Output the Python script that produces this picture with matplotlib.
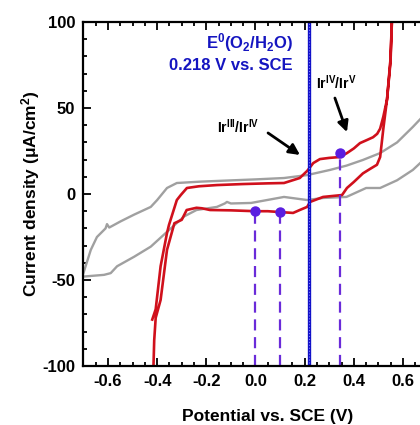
import numpy as np
from matplotlib import pyplot as plt
from matplotlib.ticker import MultipleLocator

plt.rcParams['font.family'] = ['Liberation Sans', 'DejaVu Sans']
plt.rcParams['mathtext.default'] = 'regular'
plt.rcParams['axes.unicode_minus'] = False

# red CV (Ir catalyst), anodic branch then cathodic return
red_x = [-0.42, -0.406, -0.386, -0.36, -0.352, -0.32, -0.304, -0.279, -0.23, -0.157, -0.05,
         0.05, 0.116, 0.18, 0.21, 0.235, 0.262, 0.30, 0.344, 0.372, 0.40, 0.425, 0.455,
         0.478, 0.495, 0.507, 0.52, 0.535, 0.548, 0.556,
         0.55, 0.535, 0.52, 0.507, 0.494, 0.465, 0.437, 0.40, 0.372, 0.352, 0.31, 0.275,
         0.222, 0.21, 0.18, 0.153, 0.1, 0.05, 0.0, -0.1, -0.185, -0.218, -0.24, -0.28,
         -0.30, -0.33, -0.36, -0.386, -0.406, -0.412, -0.415, -0.417]
red_y = [-73, -67, -42, -22.7, -18, -3.5, -0.6, 3.5, 4.5, 5.2, 5.8,
         6.2, 6.4, 9.3, 13.4, 18, 20.3, 21, 21.5, 23.8, 26.5, 29.6, 31.5,
         33, 35, 38, 45, 55, 75, 105,
         80, 55, 38, 21.5, 17, 14.5, 12, 7, 3.5, -0.6, -1.2, -1.7,
         -4.6, -7.5, -9.3, -11, -10.5, -10, -10, -9.5, -9.3, -8.3, -8, -9.3,
         -15, -17, -32.5, -61.6, -72, -85, -100, -110]

# grey CV (reference electrode), upper and lower branches
grey_up_x = [-0.70, -0.67, -0.645, -0.61, -0.604, -0.595, -0.55, -0.494, -0.426, -0.40,
             -0.36, -0.32, -0.223, -0.087, 0.0, 0.116, 0.21, 0.303, 0.37, 0.437, 0.507,
             0.576, 0.64, 0.70]
grey_up_y = [-46, -32.5, -25, -20, -17.5, -19.5, -16, -12, -7.5, -3.5,
             3.5, 6.4, 7.2, 8, 8.5, 9.3, 11, 14, 16.5, 19.8, 23.8,
             30, 39, 48]
grey_lo_x = [-0.70, -0.616, -0.589, -0.563, -0.494, -0.426, -0.36, -0.29, -0.24, -0.157,
             -0.125, -0.116, -0.10, -0.018, 0.116, 0.21, 0.275, 0.37, 0.45, 0.507,
             0.576, 0.64, 0.70]
grey_lo_y = [-48, -47, -46, -42, -36.5, -30.6, -22, -13, -9.3, -7.5,
             -5.5, -4.6, -5.5, -5.2, -1.7, -3.5, -2.3, -1.7, 3.5, 3.5,
             8, 14, 22]

e0 = 0.218
mark_x = [0.0, 0.1, 0.345]
mark_y = [-10, -10.5, 23.8]

fig = plt.figure(figsize=(4.2, 4.25), dpi=100)
ax = fig.add_axes([0.1986, 0.1388, 0.878, 0.8094])

ax.plot(grey_up_x, grey_up_y, color='#a0a0a0', lw=1.7)
ax.plot(grey_lo_x, grey_lo_y, color='#a0a0a0', lw=1.7)
ax.plot(red_x, red_y, color='#d0101c', lw=1.9)

ax.axvline(e0, color='#1010c8', lw=2.4)
ax.axvline(e0, color='#7a7aff', lw=0.8, ls=':')

for mx, my in zip(mark_x, mark_y):
    ax.plot([mx, mx], [-100, my], color='#6a2bd9', lw=1.6, ls=(0, (5, 3)))
ax.plot(mark_x, mark_y, 'o', color='#5a1ee0', ms=6.5, zorder=5)

ax.text(0.152, 88, 'E$^0$(O$_2$/H$_2$O)', color='#1515c0', fontsize=12,
        fontweight='bold', ha='right', va='center')
ax.text(0.152, 75, '0.218 V vs. SCE', color='#1515c0', fontsize=12,
        fontweight='bold', ha='right', va='center')

arrow = dict(arrowstyle='-|>', color='black', lw=2.0, shrinkA=0, shrinkB=0,
             mutation_scale=16)
ax.text(-0.071, 39, 'Ir$^{III}$/Ir$^{IV}$', fontsize=10, fontweight='bold',
        ha='center', va='center')
ax.annotate('', xy=(0.181, 22.7), xytext=(0.051, 35.5), arrowprops=arrow)
ax.text(0.328, 65, 'Ir$^{IV}$/Ir$^{V}$', fontsize=10, fontweight='bold',
        ha='center', va='center')
ax.annotate('', xy=(0.372, 36), xytext=(0.323, 55.8), arrowprops=arrow)

ax.set_xlim(-0.7, 0.8)
ax.set_ylim(-100, 100)
ax.xaxis.set_minor_locator(MultipleLocator(0.05))
ax.yaxis.set_major_locator(MultipleLocator(50))
ax.yaxis.set_minor_locator(MultipleLocator(10))
ax.set_xticks([-0.6, -0.4, -0.2, 0.0, 0.2, 0.4, 0.6])
ax.set_xticklabels(['-0.6', '-0.4', '-0.2', '0.0', '0.2', '0.4', '0.6'])
ax.tick_params(which='both', direction='in', top=True, right=False, width=1.3)
ax.tick_params(which='major', length=6, labelsize=12, pad=6)
ax.tick_params(which='minor', length=3)
for lab in ax.get_xticklabels() + ax.get_yticklabels():
    lab.set_fontweight('bold')
for s in ax.spines.values():
    s.set_linewidth(1.6)

ax.set_xlabel('Potential vs. SCE (V)', fontsize=12.5, fontweight='bold', labelpad=14)
ax.set_ylabel('Current density (\u03bcA/cm$^2$)', fontsize=12.5, fontweight='bold', labelpad=0)

fig.savefig('out.png', dpi=100)
